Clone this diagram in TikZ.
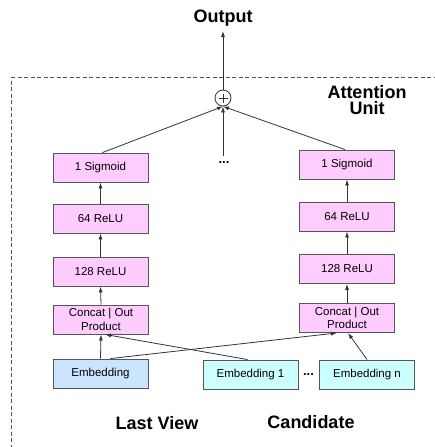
\documentclass[tikz,border=0pt]{standalone}
\usepackage{fontspec}
\setmainfont{Liberation Sans}
\usetikzlibrary{arrows.meta}
\definecolor{pinkbox}{HTML}{FFCCFF}
\definecolor{bluebox}{HTML}{CCE5FF}
\definecolor{cyanbox}{HTML}{CCFFFF}
\definecolor{linegray}{HTML}{555555}
\definecolor{ink}{HTML}{333333}
\tikzset{
  nnbox/.style={draw=linegray,line width=0.9pt,fill=pinkbox,minimum width=95pt,minimum height=29pt,inner sep=0pt},
  embbox/.style={nnbox,fill=bluebox},
  candbox/.style={nnbox,fill=cyanbox},
  boxtext/.style={font=\fontsize{11.5}{13}\selectfont,inner sep=0pt},
  heading/.style={font=\fontsize{18}{20}\selectfont\bfseries},
  arr/.style={draw=ink,line width=0.8pt,-{Latex[length=6pt,width=4pt]}},
  elide/.style={font=\fontsize{13}{13}\selectfont\bfseries,inner sep=0pt},
  framedash/.style={draw=linegray,line width=0.9pt}
}
\begin{document}
\begin{tikzpicture}
\useasboundingbox (0pt,-447pt) rectangle (434pt,0pt);

% attention unit frame, dashed by hand, running off the right and bottom edges
\foreach \x in {11,17.5,...,434} \draw[framedash] (\x*1pt,-77pt) -- ++(4pt,0pt);
\foreach \y in {80.5,87,...,447} \draw[framedash] (11pt,-\y*1pt) -- ++(0pt,-4pt);

% summation circle
\node[draw=ink,line width=0.8pt,circle,minimum size=16pt,inner sep=0pt] (plus) at (223pt,-98pt) {};
\draw[draw=ink,line width=0.6pt] ([xshift=-4.5pt]plus.center) -- ([xshift=4.5pt]plus.center)
  ([yshift=-4.5pt]plus.center) -- ([yshift=4.5pt]plus.center);
\coordinate (outfoot) at (223pt,-31pt);
\draw[arr] (plus.north) -- (outfoot);

% left tower
\node[nnbox] (lsig) at (100.5pt,-167.5pt) {};
\node[nnbox] (l64) at (100.5pt,-218.5pt) {};
\node[nnbox] (l128) at (100.5pt,-271.5pt) {};
\node[nnbox] (lcat) at (101pt,-319.5pt) {};
\node[embbox] (lemb) at (100.5pt,-373.5pt) {};

% right tower and candidate embeddings
\node[nnbox] (rsig) at (347pt,-164.5pt) {};
\node[nnbox] (r64) at (347pt,-216.5pt) {};
\node[nnbox] (r128) at (347pt,-269pt) {};
\node[nnbox] (rcat) at (347pt,-318pt) {};
\node[candbox] (e1) at (250.5pt,-374.5pt) {};
\node[candbox] (en) at (367pt,-374.5pt) {};

% tower links
\draw[arr] (lemb.north) -- (lcat.south);
\draw[arr] (lcat.north) -- (l128.south);
\draw[arr] (l128.north) -- (l64.south);
\draw[arr] (l64.north) -- (lsig.south);
\draw[arr] (rcat.north) -- (r128.south);
\draw[arr] (r128.north) -- (r64.south);
\draw[arr] (r64.north) -- (rsig.south);

% embeddings into the concat layers
\draw[arr] ([xshift=10pt]lemb.north) -- ([xshift=-10pt]rcat.south);
\draw[arr] ([xshift=-3pt]e1.north) -- ([xshift=4pt]lcat.south);
\draw[arr] (en.north) -- ([xshift=1pt]rcat.south);

% towers into the sum
\coordinate (midtop) at (223pt,-156pt);
\draw[arr] ([xshift=2pt]lsig.north) -- (plus.south);
\draw[arr] (midtop) -- (plus.south);
\draw[arr] ([xshift=-2pt]rsig.north) -- (plus.south);

% all text goes on last
\node[heading] (out) at (223pt,-18pt) {Output};
\node[heading] (unit) at (367pt,-100pt) {\shortstack{Attention\\Unit}};
\node[boxtext] (lsig-t) at (lsig) {1 Sigmoid};
\node[boxtext] (l64-t) at (l64) {64 ReLU};
\node[boxtext] (l128-t) at (l128) {128 ReLU};
\node[boxtext] (lcat-t) at (lcat) {\shortstack{Concat | Out\\Product}};
\node[boxtext] (lemb-t) at (lemb) {Embedding};
\node[boxtext] (rsig-t) at (rsig) {1 Sigmoid};
\node[boxtext] (r64-t) at (r64) {64 ReLU};
\node[boxtext] (r128-t) at (r128) {128 ReLU};
\node[boxtext] (rcat-t) at (rcat) {\shortstack{Concat | Out\\Product}};
\node[boxtext] (e1-t) at (e1) {Embedding 1};
\node[boxtext] (en-t) at (en) {Embedding n};
\node[elide] (cdots) at (308.5pt,-375pt) {...};
\node[elide] (mdots) at (224pt,-163pt) {...};
\node[heading] (lv) at (157pt,-423pt) {Last View};
\node[heading] (cand) at (311pt,-422pt) {Candidate};
\end{tikzpicture}
\end{document}
